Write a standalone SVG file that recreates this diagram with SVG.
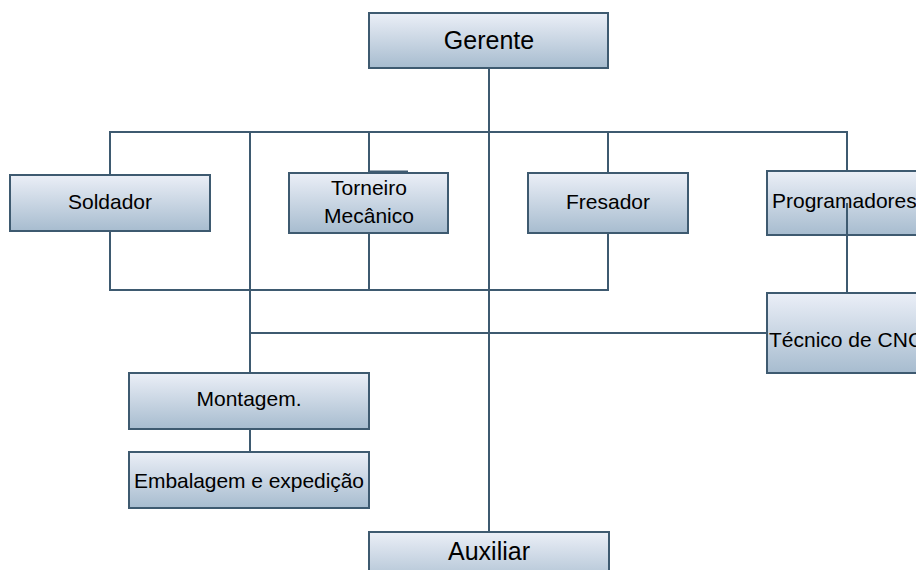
<svg xmlns="http://www.w3.org/2000/svg" width="916" height="570" viewBox="0 0 916 570">
<defs>
<linearGradient id="g" x1="0" y1="0" x2="0" y2="1">
<stop offset="0" stop-color="#ebeff7"/>
<stop offset="1" stop-color="#a7bccf"/>
</linearGradient>
<style>
.box{fill:url(#g);stroke:#3e5a70;stroke-width:2}
.t{font-family:"Liberation Sans",Arial,sans-serif;font-size:21px;fill:#000;text-anchor:middle}
.big{font-size:25px}
.c{stroke:#3e5a70;stroke-width:2;fill:none}
</style>
</defs>
<rect width="916" height="570" fill="#fff"/>
<g id="gerente"><rect class="box" x="369" y="13" width="239" height="55"/><text class="t big" x="489" y="49">Gerente</text></g>
<g id="soldador"><rect class="box" x="10" y="175" width="200" height="56"/><text class="t" x="110" y="209">Soldador</text></g>
<g id="torneiro"><rect class="box" x="289" y="173" width="159" height="60"/><text class="t" x="369" y="195">Torneiro</text><text class="t" x="369" y="223">Mecânico</text></g>
<g id="fresador"><rect class="box" x="528" y="173" width="160" height="60"/><text class="t" x="608" y="209">Fresador</text></g>
<g id="programadores"><rect class="box" x="767" y="171" width="170" height="64"/><text class="t" x="772" y="208" style="text-anchor:start">Programadores</text></g>
<g id="tecnico"><rect class="box" x="767" y="293" width="170" height="80"/><text class="t" x="769" y="347" style="text-anchor:start">Técnico de CNC</text></g>
<g id="montagem"><rect class="box" x="129" y="373" width="240" height="56"/><text class="t" x="249" y="406">Montagem.</text></g>
<g id="embalagem"><rect class="box" x="129" y="452" width="240" height="56"/><text class="t" x="249" y="488" textLength="230">Embalagem e expedição</text></g>
<g id="auxiliar"><rect class="box" x="369" y="532" width="240" height="56"/><text class="t big" x="489" y="560">Auxiliar</text></g>
<g id="connectors">
<line class="c" x1="489" y1="68" x2="489" y2="532"/>
<line class="c" x1="109" y1="132" x2="848" y2="132"/>
<line class="c" x1="110" y1="132" x2="110" y2="175"/>
<line class="c" x1="369" y1="132" x2="369" y2="173"/>
<line class="c" x1="608" y1="132" x2="608" y2="173"/>
<line class="c" x1="847" y1="132" x2="847" y2="171"/>
<line class="c" x1="250" y1="132" x2="250" y2="373"/>
<line class="c" x1="369" y1="171.5" x2="408" y2="171.5"/>
<polyline class="c" points="110,231 110,290 608,290 608,233"/>
<line class="c" x1="369" y1="233" x2="369" y2="290"/>
<line class="c" x1="250" y1="333" x2="767" y2="333"/>
<line class="c" x1="847" y1="203" x2="847" y2="293"/>
<line class="c" x1="250" y1="429" x2="250" y2="452"/>
</g>
</svg>
